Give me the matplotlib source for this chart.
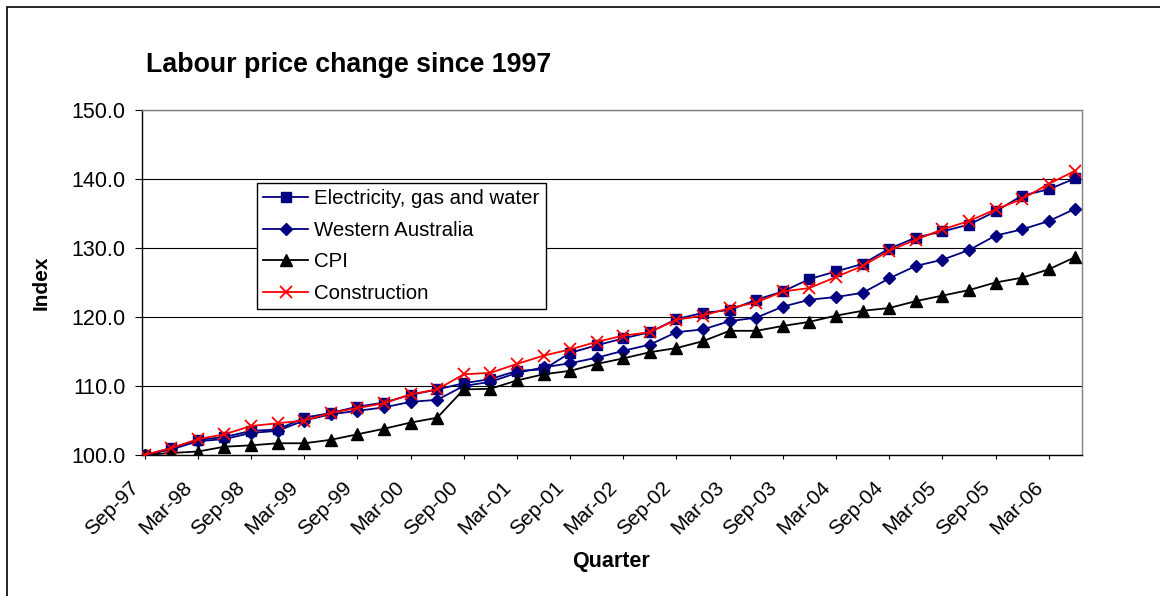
import numpy as np
import matplotlib
matplotlib.use('Agg')
import matplotlib.pyplot as plt
import matplotlib.transforms as mtransforms
from matplotlib.patches import Rectangle

plt.rcParams['font.family'] = ['Liberation Sans', 'DejaVu Sans']

# quarterly index, Sep-97 = 100
quarters = []
for y in range(1997, 2007):
    for m in ['Mar', 'Jun', 'Sep', 'Dec']:
        quarters.append(f"{m}-{str(y)[2:]}")
quarters = quarters[quarters.index('Sep-97'):quarters.index('Jun-06') + 1]

elec = [100.0, 101.0, 102.2, 102.6, 103.5, 103.7, 105.4, 106.1, 107.0, 107.6,
        108.7, 109.5, 110.4, 111.0, 112.2, 112.4, 114.8, 115.9, 116.9, 117.8,
        119.7, 120.6, 121.0, 122.5, 123.7, 125.5, 126.6, 127.7, 129.9, 131.5,
        132.4, 133.4, 135.3, 137.6, 138.5, 140.1]
wa = [100.0, 100.8, 102.0, 102.3, 103.2, 103.5, 105.0, 105.9, 106.4, 106.9,
      107.7, 108.0, 110.0, 110.6, 111.9, 112.7, 113.3, 114.1, 115.1, 116.0,
      117.8, 118.2, 119.4, 119.9, 121.5, 122.5, 122.9, 123.5, 125.6, 127.4,
      128.3, 129.7, 131.8, 132.7, 133.9, 135.7]
cpi = [100.0, 100.3, 100.5, 101.2, 101.4, 101.7, 101.7, 102.2, 103.0, 103.8,
       104.7, 105.4, 109.5, 109.6, 110.8, 111.7, 112.2, 113.2, 114.0, 114.9,
       115.5, 116.5, 118.0, 118.0, 118.7, 119.3, 120.2, 120.9, 121.3, 122.3,
       123.1, 123.9, 125.0, 125.7, 126.9, 128.7]
constr = [100.0, 101.0, 102.3, 103.0, 104.2, 104.6, 105.0, 106.1, 106.8, 107.5,
          108.8, 109.5, 111.7, 111.9, 113.2, 114.4, 115.3, 116.4, 117.3, 117.8,
          119.6, 120.2, 121.3, 122.1, 123.7, 124.2, 125.8, 127.4, 129.6, 131.2,
          132.7, 133.9, 135.6, 137.1, 139.3, 141.2]

NAVY = '#000080'

fig = plt.figure(figsize=(11.6, 5.96), dpi=100)
ax = fig.add_axes([142/1160, 141/596, 940/1160, 345/596])

x = np.arange(len(quarters))
ax.plot(x, elec, color=NAVY, lw=1.3, marker='s', ms=7, mfc=NAVY, mec=NAVY,
        label='Electricity, gas and water', zorder=3)
ax.plot(x, wa, color=NAVY, lw=1.3, marker='D', ms=6.5, mfc=NAVY, mec=NAVY,
        label='Western Australia', zorder=3)
ax.plot(x, cpi, color='black', lw=1.3, marker='^', ms=8.5, mfc='black', mec='black',
        label='CPI', zorder=3)
ax.plot(x, constr, color='red', lw=1.3, marker='x', ms=9, mew=1.3,
        label='Construction', zorder=4)

ax.set_xlim(-0.1, 35.25)
ax.set_ylim(100, 150)
ax.set_yticks(np.arange(100, 151, 10))
ax.set_yticklabels([f"{v:.1f}" for v in np.arange(100, 151, 10)], fontsize=15.5)
ax.yaxis.grid(True, color='black', lw=0.8)
ax.set_axisbelow(True)

ax.set_xticks(x[::2])
ax.set_xticklabels(quarters[::2], rotation=45, ha='right', va='baseline',
                   rotation_mode='anchor', fontsize=15)
ax.tick_params(axis='x', direction='out', length=3, width=0.8, pad=21)
ax.tick_params(axis='y', direction='out', length=5, width=0.8, pad=7)
shift = mtransforms.ScaledTranslation(-5/100, 0, fig.dpi_scale_trans)
for lab in ax.get_xticklabels():
    lab.set_transform(lab.get_transform() + shift)

for s in ['top', 'right']:
    ax.spines[s].set_color('#808080')
for s in ['left', 'bottom']:
    ax.spines[s].set_color('black')
for s in ax.spines.values():
    s.set_linewidth(1.0)

fig.text(41/1160, 1 - 283/596, 'Index', rotation=90, ha='center', va='center',
         fontsize=15, fontweight='bold')
fig.text(611/1160, 1 - 562/596, 'Quarter', ha='center', va='center',
         fontsize=15.5, fontweight='bold')
fig.text(146/1160, 1 - 72/596, 'Labour price change since 1997', ha='left',
         va='baseline', fontsize=19.3, fontweight='bold')

leg = ax.legend(loc='upper left', bbox_to_anchor=(257/1160, 1 - 183/596),
                bbox_transform=fig.transFigure, fontsize=14.7, frameon=True,
                fancybox=False, edgecolor='black', framealpha=1,
                borderaxespad=0, borderpad=0.3, labelspacing=0.62,
                handlelength=2.2, handletextpad=0.3)
leg.get_frame().set_linewidth(1.0)

# chart area border (runs off the right/bottom of the image)
fig.patches.append(Rectangle((7/1160, -0.1), 1.2, 1.1 - 7/596, transform=fig.transFigure,
                             fill=False, edgecolor='black', lw=1.2))

fig.savefig('out.png', dpi=100)
